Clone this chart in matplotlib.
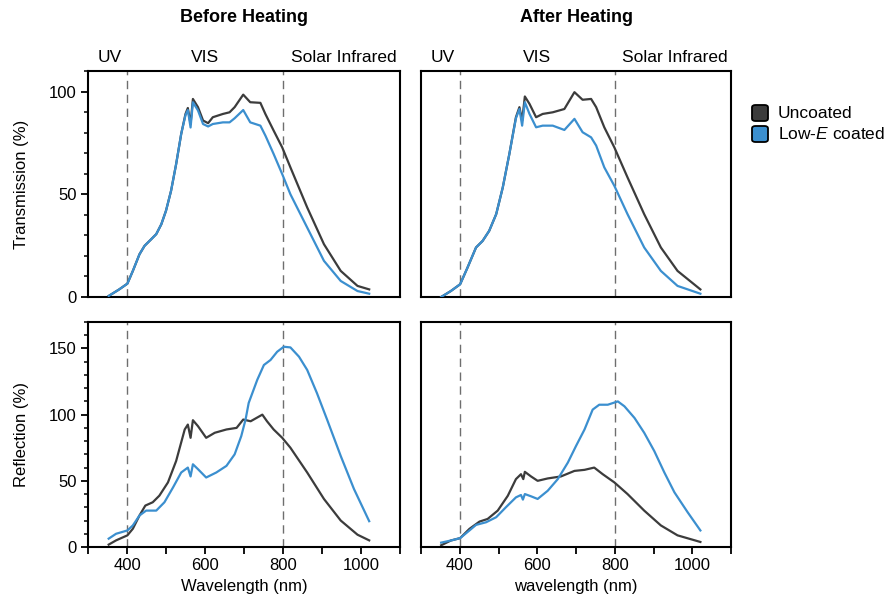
import matplotlib
matplotlib.use("Agg")
import matplotlib.pyplot as plt
from matplotlib.patches import FancyBboxPatch
from matplotlib.ticker import MultipleLocator, FixedLocator

plt.rcParams['font.family'] = ['Liberation Sans', 'DejaVu Sans']
plt.rcParams['mathtext.fontset'] = 'custom'
plt.rcParams['mathtext.rm'] = 'Liberation Sans'
plt.rcParams['mathtext.it'] = 'Liberation Sans:italic'

# ---------------- data ----------------
# Transmission, before heating
tb_unc_x = [353, 380, 401, 415, 432, 445, 462, 475, 488, 500, 513, 526, 539, 550, 556, 563, 569, 582,
            595, 608, 620, 646, 663, 676, 698, 716, 742, 755, 776, 798, 819, 862, 905, 948, 991, 1021]
tb_unc_y = [0.5, 3.7, 6.5, 12.7, 20.8, 24.9, 28.1, 30.6, 35.4, 42, 51.7, 64.7, 79.4, 89.1, 92, 84.2, 96.4, 92.4,
            85.9, 84.6, 87.5, 89.1, 89.9, 92.4, 98.5, 94.8, 94.5, 89, 81, 72.8, 63.1, 43.6, 25.7, 12.7, 5.4, 3.7]
tb_coat_x = [353, 380, 401, 415, 432, 445, 462, 475, 488, 500, 513, 526, 539, 550, 556, 563, 569, 582,
             595, 608, 620, 646, 663, 676, 698, 716, 742, 755, 776, 798, 819, 862, 905, 948, 991, 1021]
tb_coat_y = [0.5, 3.7, 6.5, 12.7, 20.8, 24.9, 28.1, 30.6, 35.4, 42, 51.7, 64.7, 79.4, 88.5, 91, 82.5, 94.8, 90.8,
             84.2, 83, 84.2, 85, 85, 87, 91, 85, 83.4, 78.5, 69.6, 59.8, 50, 33.8, 17.6, 7.8, 2.9, 1.6]

# Transmission, after heating
ta_unc_x = [352, 377, 401, 420, 442, 459, 476, 494, 511, 528, 545, 554, 561, 568, 580, 597, 614, 640,
            670, 696, 717, 739, 752, 773, 799, 833, 876, 919, 962, 1021]
ta_unc_y = [0, 2.9, 6.2, 14.3, 24.1, 27.3, 32.2, 40.3, 53.3, 69.6, 87.5, 92.4, 85.9, 97.6, 94, 87.5, 89.1, 89.9,
            91.5, 99.7, 96, 96.4, 92.4, 82.6, 72.8, 58.2, 40.3, 24.1, 12.7, 3.7]
ta_coat_x = [352, 377, 401, 420, 442, 459, 476, 494, 511, 528, 545, 554, 561, 568, 580, 597, 614, 640,
             670, 696, 717, 739, 752, 773, 799, 833, 876, 919, 962, 1021]
ta_coat_y = [0, 2.9, 6.2, 14.3, 24.1, 27.3, 32.2, 40.3, 53.3, 69.6, 87, 91.5, 83.4, 94.8, 89.1, 82.6, 83.4, 83.4,
             81.3, 86.7, 80.2, 77.7, 73.7, 63.1, 54.1, 40.3, 24.1, 12.7, 5.4, 1.6]

# Reflection, before heating
rb_unc_x = [353, 372, 401, 415, 432, 447, 466, 483, 505, 526, 548, 556, 563, 569, 582, 603, 625, 655,
            681, 698, 717, 747, 759, 776, 798, 819, 862, 905, 948, 991, 1021]
rb_unc_y = [1.8, 5, 8.8, 13.8, 23.8, 31.3, 33.8, 38.8, 48.8, 65, 88.8, 92.5, 82.5, 95.8, 91.3, 82.5, 86.3, 88.8,
            90, 96.3, 95, 100, 95, 88.8, 82.5, 75, 56.3, 36.3, 20, 9.3, 5]
rb_coat_x = [353, 372, 401, 415, 432, 449, 475, 496, 518, 539, 556, 563, 569, 582, 603, 629, 655, 676,
             693, 704, 712, 734, 751, 768, 785, 802, 819, 841, 862, 887, 913, 948, 982, 1021]
rb_coat_y = [6.3, 10, 12.5, 16.3, 23.8, 27.5, 27.5, 33.8, 45, 56.3, 60, 53.3, 62.5, 58.8, 52.5, 56.3, 61.3, 70,
             83.8, 96.3, 108.8, 126.3, 137.5, 141.3, 147.5, 151.3, 150.8, 143.8, 133.8, 116.3, 96.3, 68.8, 43.8, 19.5]

# Reflection, after heating
ra_unc_x = [352, 377, 401, 425, 451, 472, 498, 524, 545, 558, 564, 568, 584, 601, 627, 661, 696,
            722, 747, 769, 799, 833, 876, 919, 962, 1021]
ra_unc_y = [1.3, 4.9, 6.7, 13.7, 19.2, 21.2, 27.5, 38.7, 51.3, 55, 51.3, 56.8, 53.3, 50, 51.8, 53.3, 57.5,
            58.3, 60, 55, 48.8, 40, 27.5, 16.3, 8.8, 3.8]
ra_coat_x = [352, 377, 401, 425, 442, 468, 494, 519, 545, 558, 563, 568, 584, 601, 627, 653, 679,
             700, 722, 743, 760, 782, 808, 825, 851, 876, 902, 928, 954, 988, 1021]
ra_coat_y = [3.3, 4.9, 6.7, 12.5, 16.7, 18.7, 22.5, 30, 37.5, 39.3, 35.8, 40, 38.3, 36.3, 42.5, 51.3, 63.8,
             76.3, 88.8, 103.8, 107.5, 107.5, 110, 106.3, 97.5, 86.3, 72.5, 56.3, 41.3, 26.3, 12.5]

region_lines = [400, 800]
region_labels = ["UV", "VIS", "Solar Infrared"]
col_titles = ["Before Heating", "After Heating"]
series_names = ["Uncoated", "Low-$\\mathit{E}$ coated"]

C_UNC = '#3c3c3c'
C_COAT = '#3b8fcf'

# ---------------- figure ----------------
fig = plt.figure(figsize=(8.86, 6.06), dpi=100)
W, H = 886, 606

def axpos(x0, y0, x1, y1):
    return [x0 / W, 1 - y1 / H, (x1 - x0) / W, (y1 - y0) / H]

ax_tl = fig.add_axes(axpos(88, 71, 400, 297))
ax_tr = fig.add_axes(axpos(421, 71, 731, 297))
ax_bl = fig.add_axes(axpos(88, 322, 400, 547))
ax_br = fig.add_axes(axpos(421, 322, 731, 547))

panels = [
    (ax_tl, tb_unc_x, tb_unc_y, tb_coat_x, tb_coat_y, 110),
    (ax_tr, ta_unc_x, ta_unc_y, ta_coat_x, ta_coat_y, 110),
    (ax_bl, rb_unc_x, rb_unc_y, rb_coat_x, rb_coat_y, 170),
    (ax_br, ra_unc_x, ra_unc_y, ra_coat_x, ra_coat_y, 170),
]

for ax, ux, uy, cx, cy, ytop in panels:
    for xv in region_lines:
        ax.axvline(xv, color='#6e6e6e', lw=1.0, ls=(0, (6, 4)), zorder=1)
    ax.plot(ux, uy, color=C_UNC, lw=1.6, zorder=2)
    ax.plot(cx, cy, color=C_COAT, lw=1.6, zorder=3)
    ax.set_xlim(300, 1100)
    ax.set_ylim(0, ytop)
    for s in ax.spines.values():
        s.set_linewidth(1.5)
    ax.tick_params(direction='out', width=1.3, length=5, labelsize=12, pad=3)
    ax.tick_params(which='minor', direction='out', width=1.1, length=3)

# y ticks on left panels
for ax, majors in [(ax_tl, [0, 50, 100]), (ax_bl, [0, 50, 100, 150])]:
    ax.yaxis.set_major_locator(FixedLocator(majors))
    ax.yaxis.set_minor_locator(MultipleLocator(10))
for ax in (ax_tr, ax_br):
    ax.set_yticks([])
    ax.yaxis.set_minor_locator(FixedLocator([]))

# x ticks: none on top row, every 100 on bottom with labels every 200
for ax in (ax_tl, ax_tr):
    ax.set_xticks([])
for ax in (ax_bl, ax_br):
    ax.set_xticks(list(range(300, 1101, 100)))
    ax.set_xticklabels(['' if v % 200 else str(v) for v in range(300, 1101, 100)])

ax_tl.set_ylabel("Transmission (%)", fontsize=12)
ax_bl.set_ylabel("Reflection (%)", fontsize=12)
ax_bl.set_xlabel("Wavelength (nm)", fontsize=12, labelpad=4)
ax_br.set_xlabel("wavelength (nm)", fontsize=12, labelpad=4)
ax_tl.yaxis.set_label_coords(-0.19, 0.5)
ax_bl.yaxis.set_label_coords(-0.19, 0.5)

# region labels and column titles
for ax, title in [(ax_tl, col_titles[0]), (ax_tr, col_titles[1])]:
    ax.text(0.03, 1.025, region_labels[0], transform=ax.transAxes, fontsize=12.5, ha='left', va='bottom')
    ax.text(0.375, 1.025, region_labels[1], transform=ax.transAxes, fontsize=12.5, ha='center', va='bottom')
    ax.text(0.99, 1.025, region_labels[2], transform=ax.transAxes, fontsize=12.5, ha='right', va='bottom')
    ax.text(0.5, 1.0 + 45 / 226, title, transform=ax.transAxes, fontsize=13, fontweight='bold',
            ha='center', va='bottom')

# legend with rounded squares
for i, (name, col) in enumerate(zip(series_names, [C_UNC, C_COAT])):
    yc = 113 + 21 * i
    box = FancyBboxPatch(((752) / W, 1 - (yc + 8) / H), 16 / W, 16 / H,
                         boxstyle="round,pad=0,rounding_size=0.004",
                         transform=fig.transFigure, facecolor=col, edgecolor='black', lw=1.3)
    fig.patches.append(box)
    fig.text(778 / W, 1 - yc / H, name, fontsize=12.5, ha='left', va='center')

fig.savefig("out.png", dpi=100)
